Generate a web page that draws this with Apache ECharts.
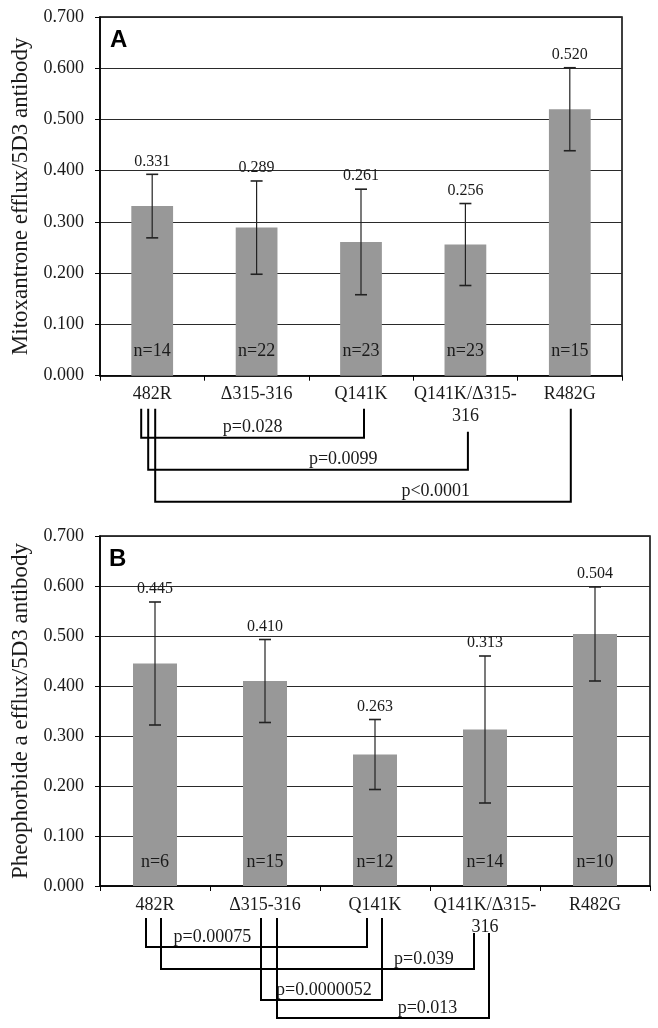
<!DOCTYPE html>
<html><head><meta charset="utf-8">
<script src="https://cdn.jsdelivr.net/npm/echarts@6/dist/echarts.min.js"></script>
<style>html,body{margin:0;padding:0;background:#fff}#c{width:658px;height:1028px}</style>
</head><body><div id="c"></div>
<script>
// ---- data ----
const categories = ['482R', 'Δ315-316', 'Q141K', 'Q141K/Δ315-\n316', 'R482G'];
const yTickLabels = ['0.000','0.100','0.200','0.300','0.400','0.500','0.600','0.700'];
const mitoMean = [0.331, 0.289, 0.261, 0.256, 0.520];
const mitoErr  = [0.062, 0.091, 0.103, 0.080, 0.081];
const mitoN    = [14, 22, 23, 23, 15];
const mitoPairs = [[0, 2], [0, 3], [0, 4]];
const mitoP     = ['p=0.028', 'p=0.0099', 'p<0.0001'];
const pheoMean = [0.445, 0.410, 0.263, 0.313, 0.504];
const pheoErr  = [0.123, 0.083, 0.070, 0.147, 0.094];
const pheoN    = [6, 15, 12, 14, 10];
const pheoPairs = [[0, 2], [0, 3], [1, 2], [1, 3]];
const pheoP     = ['p=0.00075', 'p=0.039', 'p=0.0000052', 'p=0.013'];

const SERIF = '"Liberation Serif", "Times New Roman", serif';
const INK = '#1a1a1a';
const BAR = '#989898';

const chart = echarts.init(document.getElementById('c'), null, {renderer: 'canvas'});

function yAxis(gi, title) {
  return {
    type: 'value', gridIndex: gi, min: 0, max: 0.7, interval: 0.1,
    name: title, nameLocation: 'middle', nameGap: 66,
    nameTextStyle: {fontFamily: SERIF, fontSize: 23, color: INK},
    axisLine: {show: true, lineStyle: {color: '#000', width: 1.5}},
    axisTick: {show: true, length: 5, lineStyle: {color: '#000'}},
    axisLabel: {margin: 16, fontFamily: SERIF, fontSize: 18, color: INK,
      formatter: v => yTickLabels[Math.round(v * 10)]},
    splitLine: {show: true, lineStyle: {color: '#2a2a2a', width: 1}}
  };
}
function xAxis(gi) {
  return {
    type: 'category', gridIndex: gi, data: categories, boundaryGap: true,
    axisLine: {show: true, lineStyle: {color: '#000', width: 1.5}},
    axisTick: {show: true, length: 5, alignWithLabel: false, lineStyle: {color: '#000'}},
    axisLabel: {interval: 0, margin: 8, fontFamily: SERIF, fontSize: 18, color: INK, lineHeight: 22}
  };
}
function barSeries(gi, mean, n) {
  return {
    type: 'bar', xAxisIndex: gi, yAxisIndex: gi, data: mean, barWidth: '40%',
    itemStyle: {color: BAR}, silent: true,
    label: {show: true, position: 'insideBottom', distance: 15, fontFamily: SERIF, fontSize: 18,
      color: INK, formatter: p => 'n=' + n[p.dataIndex]}
  };
}
function errSeries(gi, mean, err) {
  return {
    type: 'custom', xAxisIndex: gi, yAxisIndex: gi, z: 10, silent: true,
    encode: {x: 0, y: [1, 2]},
    data: mean.map((m, i) => [i, m - err[i], m + err[i], m]),
    renderItem(params, api) {
      const p1 = api.coord([api.value(0), api.value(1)]);
      const p2 = api.coord([api.value(0), api.value(2)]);
      const x = p1[0], lo = p1[1], hi = p2[1], w = 6;
      const st = {stroke: '#222', lineWidth: 1.2};
      return {type: 'group', children: [
        {type: 'line', shape: {x1: x, y1: lo, x2: x, y2: hi}, style: st},
        {type: 'line', shape: {x1: x - w, y1: hi, x2: x + w, y2: hi}, style: {stroke: '#222', lineWidth: 1.6}},
        {type: 'line', shape: {x1: x - w, y1: lo, x2: x + w, y2: lo}, style: {stroke: '#222', lineWidth: 1.6}},
        {type: 'text', style: {text: api.value(3).toFixed(3), x: x, y: hi - 5, align: 'center',
          verticalAlign: 'bottom', font: '16px ' + SERIF, fill: INK}}
      ]};
    }
  };
}

chart.setOption({
  animation: false,
  backgroundColor: '#fff',
  grid: [
    {left: 100, top: 17, width: 522, height: 358.7, show: true, borderColor: '#000', borderWidth: 1.5, outerBoundsMode: 'none', containLabel: false},
    {left: 100, top: 536, width: 550, height: 350, show: true, borderColor: '#000', borderWidth: 1.5, outerBoundsMode: 'none', containLabel: false}
  ],
  xAxis: [xAxis(0), xAxis(1)],
  yAxis: [yAxis(0, 'Mitoxantrone efflux/5D3 antibody'), yAxis(1, 'Pheophorbide a efflux/5D3 antibody')],
  series: [
    barSeries(0, mitoMean, mitoN), errSeries(0, mitoMean, mitoErr),
    barSeries(1, pheoMean, pheoN), errSeries(1, pheoMean, pheoErr)
  ]
});

// ---- significance brackets (layout only; ends anchored to category centers) ----
const layoutA = {
  leftOff: [-11, -4, 3], rightOff: [3, 2.5, 1], level: [62, 94, 126],
  textFrac: [0.5, 0.61, 0.675], topLeft: 33, topRight: [33, 56, 33]
};
const layoutB = {
  leftOff: [-9, 6, -4, 12], rightOff: [-8, -11, 7, 4], level: [61, 83, 114, 132],
  textFrac: [0.30, 0.84, 0.52, 0.71], topLeft: 32, topRight: [32, 47, 32, 47]
};
function brackets(gi, pairs, labels, L) {
  const out = [];
  const base = chart.convertToPixel({yAxisIndex: gi}, 0);
  pairs.forEach((pr, k) => {
    const xl = chart.convertToPixel({xAxisIndex: gi}, pr[0]) + L.leftOff[k];
    const xr = chart.convertToPixel({xAxisIndex: gi}, pr[1]) + L.rightOff[k];
    const yl = base + L.level[k];
    out.push({type: 'polyline', silent: true, shape: {points: [
      [xl, base + L.topLeft], [xl, yl], [xr, yl], [xr, base + L.topRight[k]]]},
      style: {stroke: '#000', lineWidth: 2, fill: null}});
    out.push({type: 'text', silent: true, x: xl + (xr - xl) * L.textFrac[k], y: yl - 1,
      style: {text: labels[k], align: 'center', verticalAlign: 'bottom', font: '18px ' + SERIF, fill: INK}});
  });
  return out;
}
const gfx = [].concat(
  brackets(0, mitoPairs, mitoP, layoutA),
  brackets(1, pheoPairs, pheoP, layoutB),
  [
    {type: 'text', x: 110, y: 28, style: {text: 'A', font: 'bold 24px "Liberation Sans", Arial, sans-serif', fill: '#000'}},
    {type: 'text', x: 109, y: 547, style: {text: 'B', font: 'bold 24px "Liberation Sans", Arial, sans-serif', fill: '#000'}}
  ]
);
chart.setOption({graphic: gfx});
</script>
</body></html>
